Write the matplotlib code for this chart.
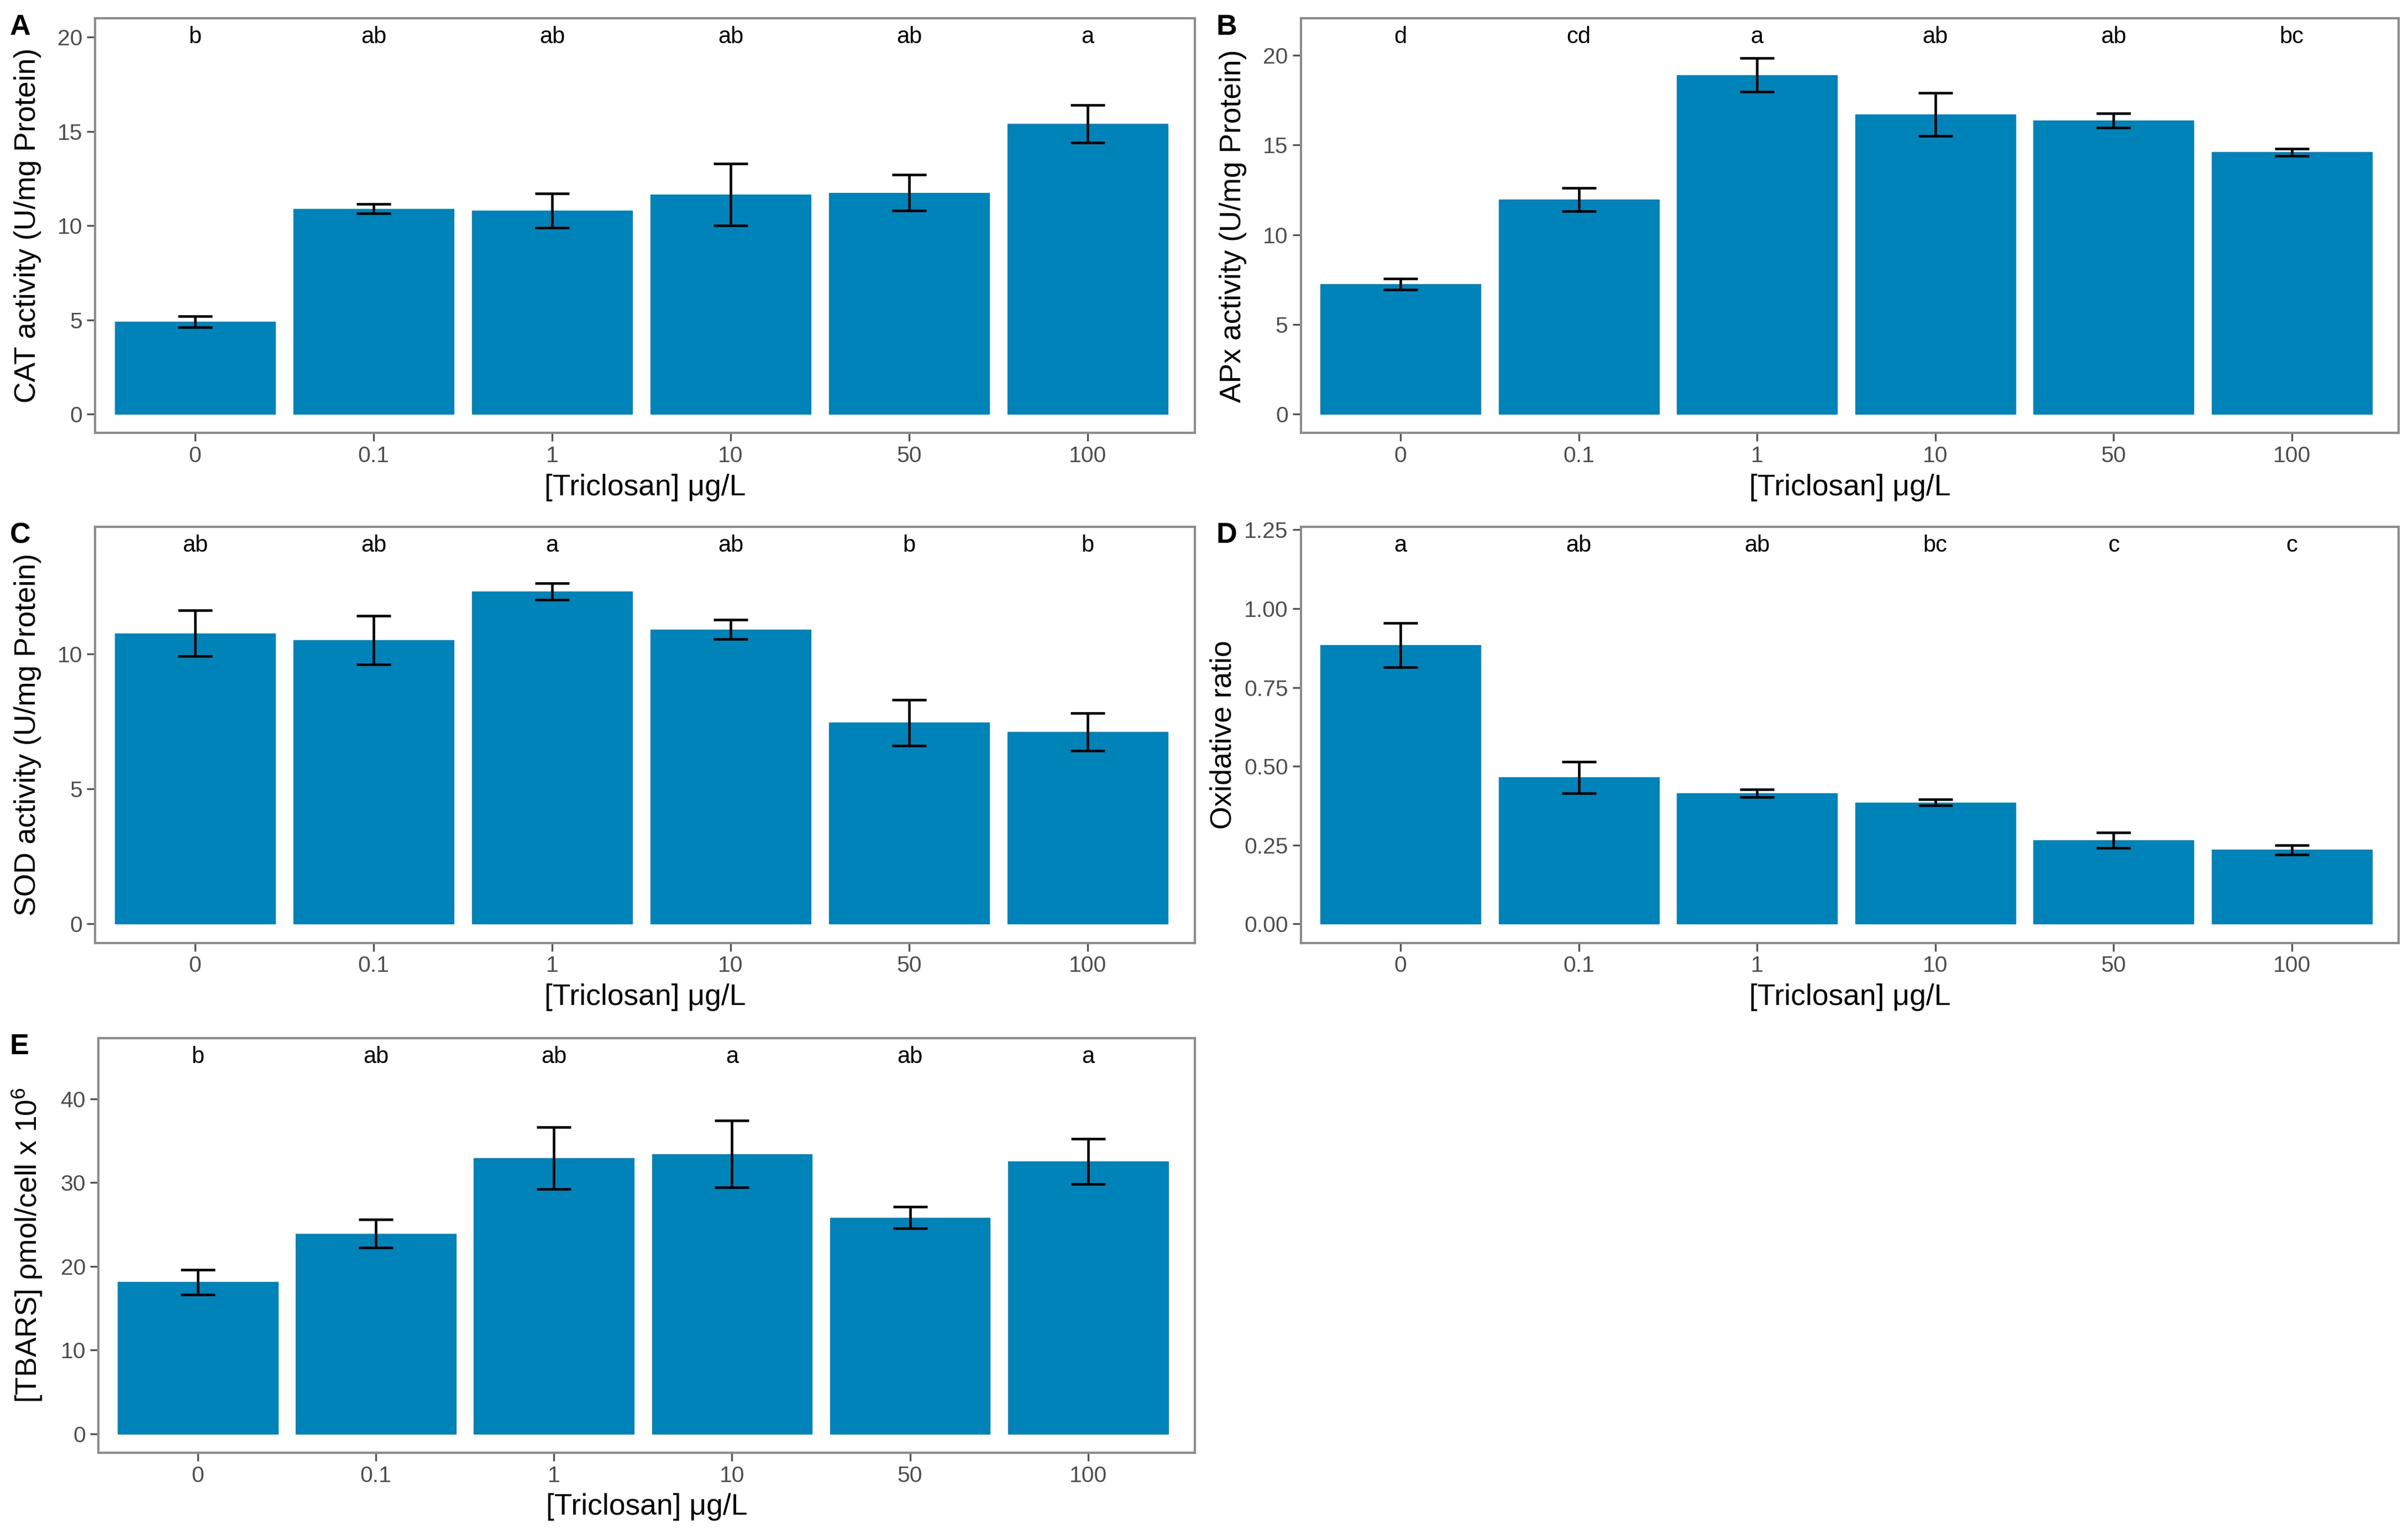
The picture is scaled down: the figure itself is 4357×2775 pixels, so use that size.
import numpy as np
import matplotlib
matplotlib.use("Agg")
import matplotlib.pyplot as plt

plt.rcParams['font.family'] = ['Liberation Sans', 'DejaVu Sans']
plt.rcParams['mathtext.fontset'] = 'custom'
plt.rcParams['mathtext.rm'] = 'Liberation Sans'
plt.rcParams['mathtext.it'] = 'Liberation Sans:italic'

# --- data ---
doses = ['0', '0.1', '1', '10', '50', '100']

cat_mean = [4.9, 10.9, 10.8, 11.65, 11.75, 15.4]
cat_err = [0.3, 0.25, 0.9, 1.65, 0.95, 1.0]
cat_letters = ['b', 'ab', 'ab', 'ab', 'ab', 'a']

apx_mean = [7.25, 11.95, 18.9, 16.7, 16.35, 14.6]
apx_err = [0.3, 0.65, 0.95, 1.2, 0.4, 0.2]
apx_letters = ['d', 'cd', 'a', 'ab', 'ab', 'bc']

sod_mean = [10.75, 10.5, 12.3, 10.9, 7.45, 7.1]
sod_err = [0.85, 0.9, 0.3, 0.35, 0.85, 0.7]
sod_letters = ['ab', 'ab', 'a', 'ab', 'b', 'b']

ox_mean = [0.885, 0.465, 0.415, 0.385, 0.265, 0.235]
ox_err = [0.07, 0.05, 0.012, 0.01, 0.025, 0.015]
ox_letters = ['a', 'ab', 'ab', 'bc', 'c', 'c']

tbars_mean = [18.1, 23.9, 32.9, 33.4, 25.8, 32.5]
tbars_err = [1.5, 1.7, 3.7, 4.0, 1.3, 2.7]
tbars_letters = ['b', 'ab', 'ab', 'a', 'ab', 'a']

bar_color = '#0083b8'
W, H = 4357, 2775
fig = plt.figure(figsize=(W / 300, H / 300), dpi=300)


def panel(rect, mean, err, letters, letter_y, ymax, yticks, ylabel, tag, tag_x,
          fmt=None, ypad=7):
    ax = fig.add_axes(rect)
    x = np.arange(len(doses))
    ax.bar(x, mean, width=0.9, color=bar_color, edgecolor=bar_color, linewidth=0.3)
    ax.errorbar(x, mean, yerr=err, fmt='none', ecolor='black', elinewidth=1.1,
                capsize=7.5, capthick=1.1)
    for xi, lab in zip(x, letters):
        ax.text(xi, letter_y, lab, ha='center', va='center', fontsize=10, color='black')
    ax.set_xlim(-0.56, len(doses) - 0.4)
    ax.set_ylim(-0.05 * ymax, 1.05 * ymax)
    ax.set_xticks(x)
    ax.set_xticklabels(doses)
    ax.set_yticks(yticks)
    if fmt:
        ax.set_yticklabels([fmt.format(v) for v in yticks])
    ax.tick_params(axis='both', labelsize=9.8, labelcolor='#4d4d4d', color='#555555',
                   length=3.5, width=0.8, pad=2)
    for s in ax.spines.values():
        s.set_color('#8c8c8c')
        s.set_linewidth(1.0)
    ax.set_xlabel('[Triclosan] μg/L', fontsize=12.8, labelpad=3)
    ax.set_ylabel(ylabel, fontsize=12.8, labelpad=ypad)
    top = rect[1] + rect[3]
    fig.text(tag_x, top + 0.003, tag, fontsize=12.5, fontweight='bold', ha='left', va='top')
    return ax


panel([0.03954, 0.71772, 0.45663, 0.27027], cat_mean, cat_err, cat_letters, 20, 20,
      [0, 5, 10, 15, 20], 'CAT activity (U/mg Protein)', 'A', 0.004)
panel([0.54018, 0.71772, 0.45599, 0.27027], apx_mean, apx_err, apx_letters, 21, 21,
      [0, 5, 10, 15, 20], 'APx activity (U/mg Protein)', 'B', 0.505)
panel([0.03954, 0.38539, 0.45663, 0.27127], sod_mean, sod_err, sod_letters, 14, 14,
      [0, 5, 10], 'SOD activity (U/mg Protein)', 'C', 0.004)
panel([0.54018, 0.38539, 0.45599, 0.27127], ox_mean, ox_err, ox_letters, 1.2, 1.2,
      [0, 0.25, 0.5, 0.75, 1.0, 1.25], 'Oxidative ratio', 'D', 0.505, fmt='{:.2f}', ypad=3)
panel([0.04082, 0.05305, 0.45536, 0.27027], tbars_mean, tbars_err, tbars_letters, 45, 45,
      [0, 10, 20, 30, 40], r'[TBARS] ρmol/cell x 10$^{6}$', 'E', 0.004)

fig.savefig('out.png', dpi=300, facecolor='white')
